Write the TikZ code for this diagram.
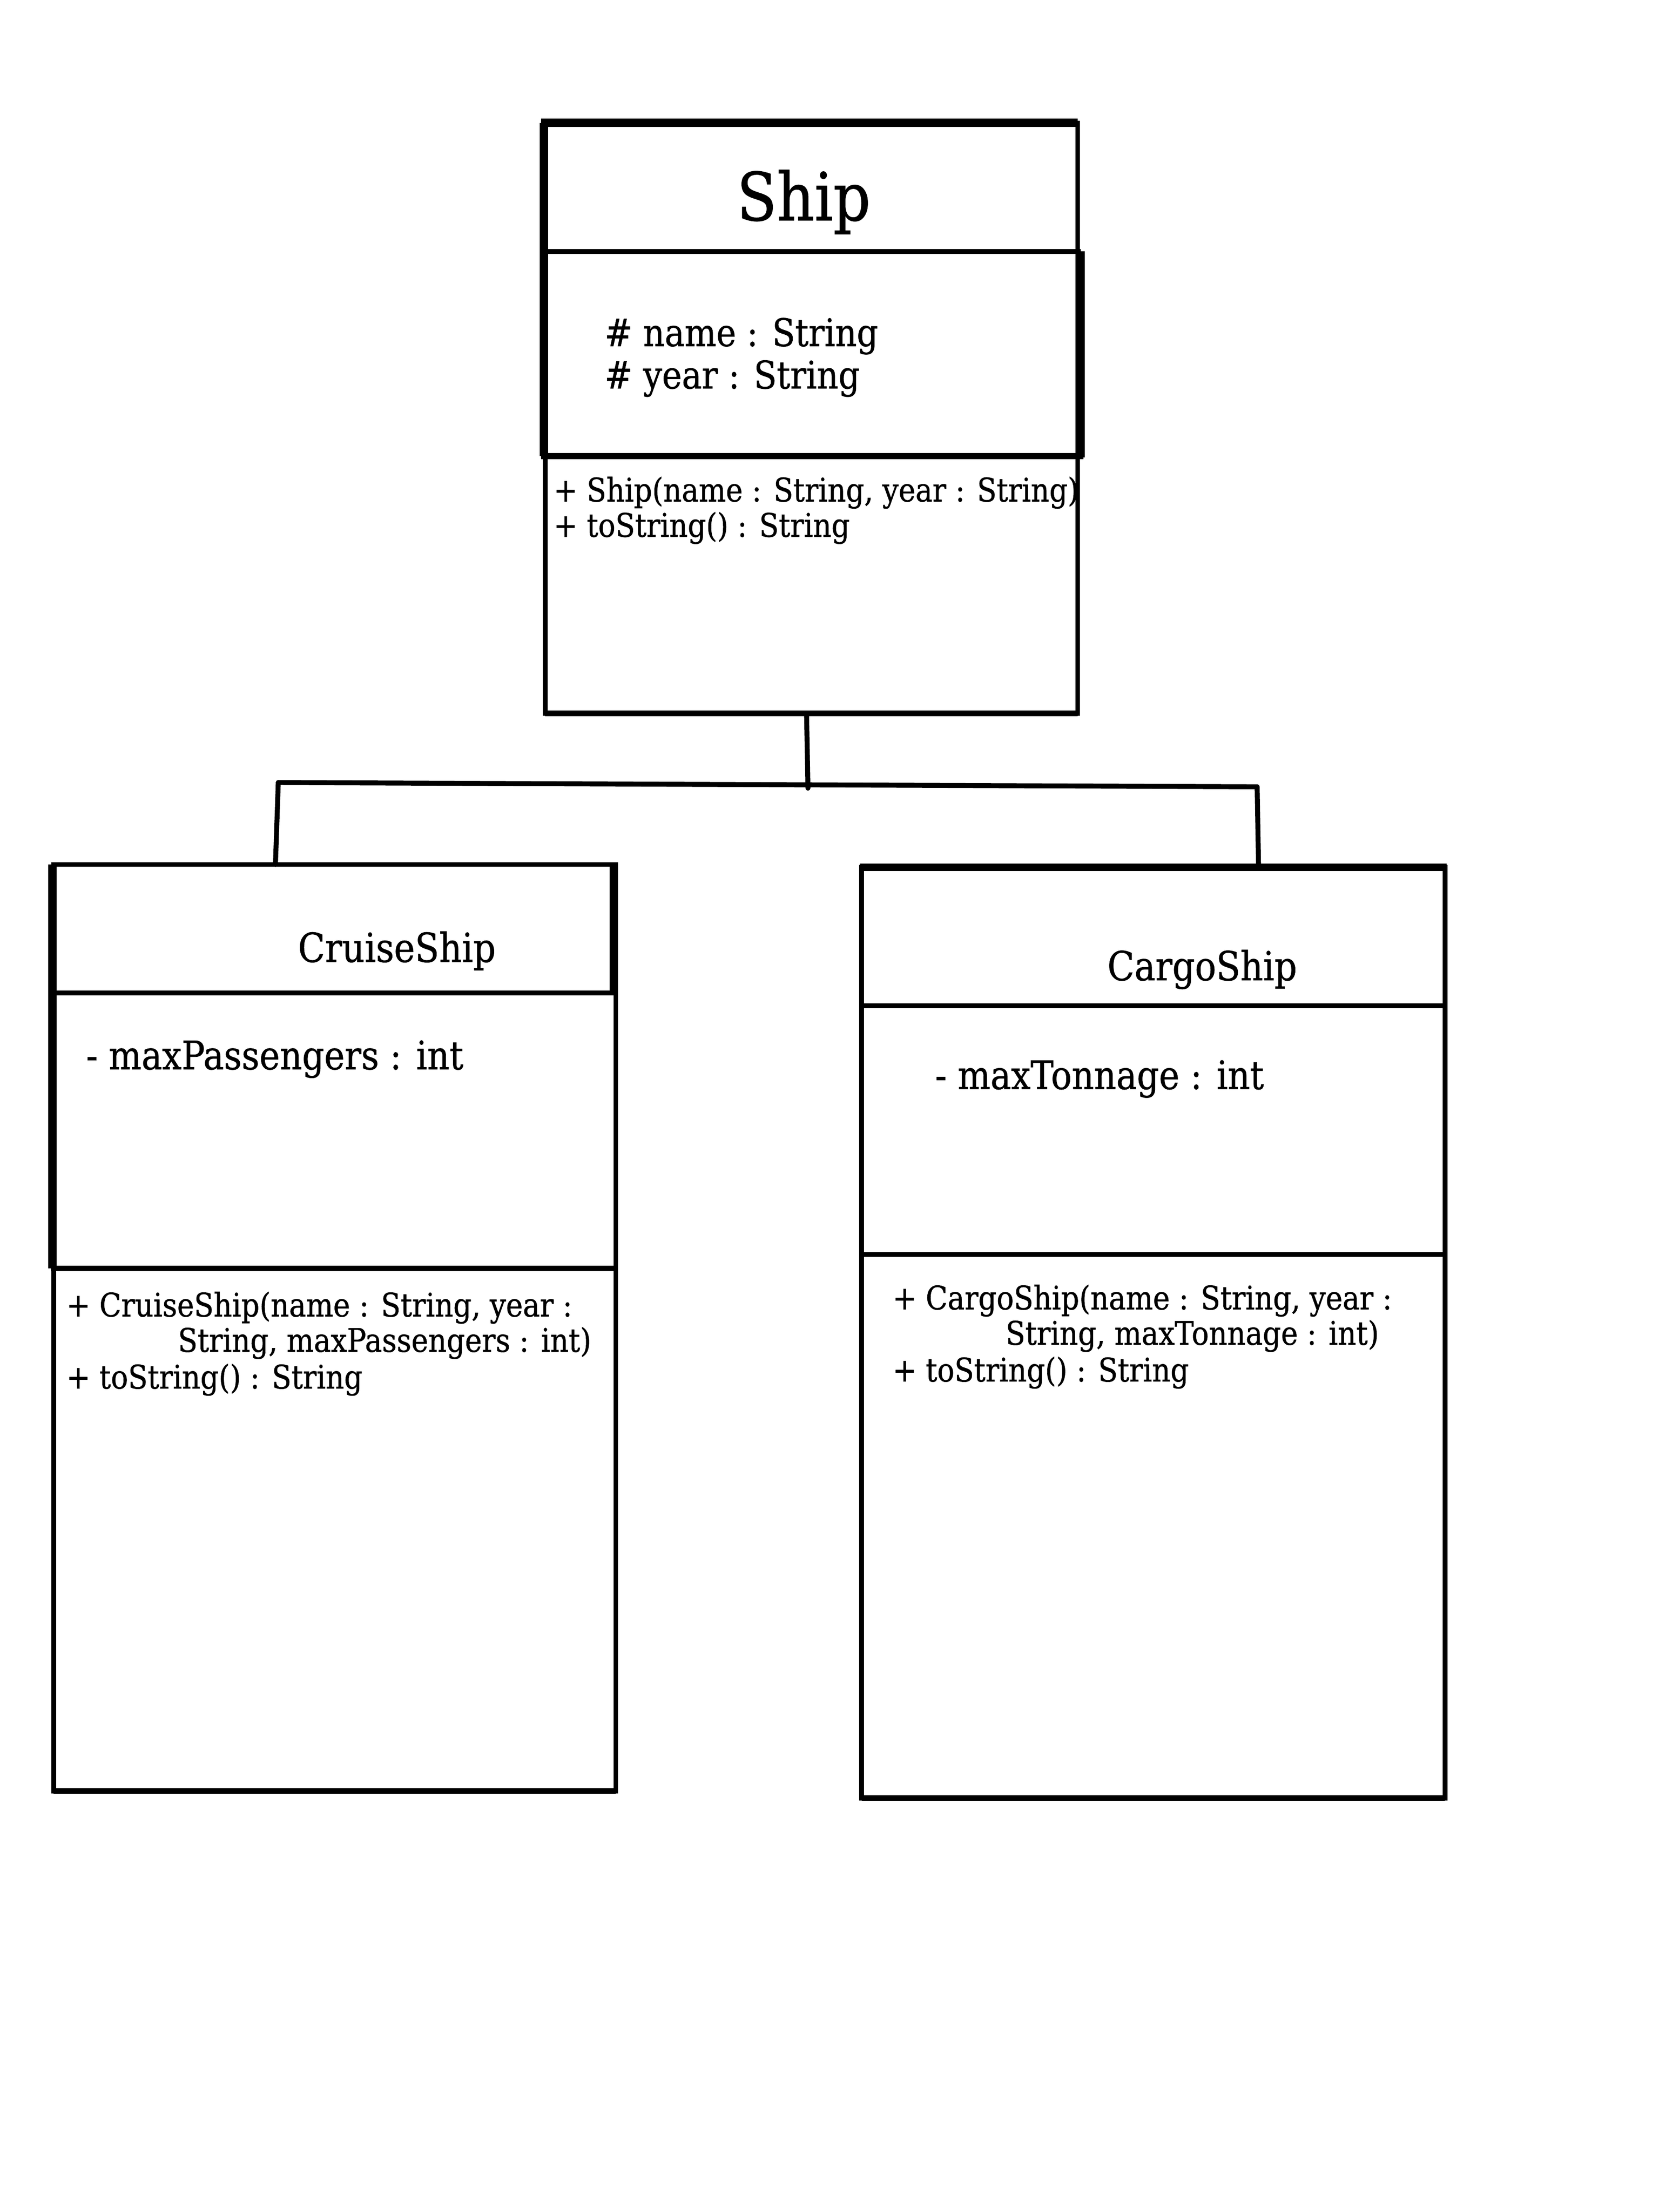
\documentclass[tikz,border=0pt]{standalone}
\usepackage{fontspec}
\setmainfont{DejaVu Serif}[FakeStretch=0.88,FakeBold=0.8]
\newcommand\fTitleBig{\fontsize{47}{54}\selectfont}
\newcommand\fTitleSub{\fontsize{28.4}{32}\selectfont}
\newcommand\fAttr{\fontsize{26.9}{30}\selectfont}
\newcommand\fAttrSub{\fontsize{27.8}{30}\selectfont}
\newcommand\fMeth{\fontsize{23}{26}\selectfont}
\tikzset{
  classbox/.style={draw, line width=3.3pt, inner sep=0pt, outer sep=0pt, anchor=north west, fill=none},
  heavy/.style={line width=6pt},
  rule/.style={line width=3.3pt},
  conn/.style={line width=3.5pt, line cap=round},
  txt/.style={inner sep=0pt, outer sep=0pt, anchor=base west},
  ttl/.style={inner sep=0pt, outer sep=0pt, anchor=base west},
}
\begin{document}
\begin{tikzpicture}[x=1pt,y=-1pt]
\useasboundingbox[fill=white] (0,0) rectangle (1174.5,1566);

% ---------- Ship ----------
\node[classbox, minimum width=377pt, minimum height=418pt] (ship) at (386,87) {};
\draw[heavy] (383,87) -- (763,87);
\draw[heavy] (385,87) -- (385,323);
\draw[rule] (385,178) -- (765,178);
\draw[heavy] (765,178) -- (765,324);
\draw[line width=4.5pt] (383,323) -- (767,323);
\draw[line width=4pt] (386,505) -- (763,505);
\node[ttl, anchor=base] (shipT) at (569,156) {\fTitleBig Ship};
\node[txt] (shipA1) at (428,245) {\fAttr \# name : String};
\node[txt] (shipA2) at (428,275) {\fAttr \# year : String};
\node[txt] (shipM1) at (392,355) {\fMeth + Ship(name : String, year : String)};
\node[txt] (shipM2) at (392,380) {\fMeth + toString() : String};

% ---------- CruiseShip ----------
\node[classbox, minimum width=398pt, minimum height=656pt] (cruise) at (38,612) {};
\draw[heavy] (37,612) -- (37,898);
\draw[line width=5pt] (434,612) -- (434,703);
\draw[rule] (37,703) -- (436,703);
\draw[line width=3.8pt] (36,898) -- (436,898);
\draw[line width=4pt] (38,1268) -- (436,1268);
\node[ttl] (cruiseT) at (211,681) {\fTitleSub CruiseShip};
\node[txt] (cruiseA1) at (61,757) {\fAttrSub - maxPassengers : int};
\node[txt] (cruiseM1) at (47,932) {\fMeth + CruiseShip(name : String, year :};
\node[txt] (cruiseM2) at (126,957) {\fMeth String, maxPassengers : int)};
\node[txt] (cruiseM3) at (47,983) {\fMeth + toString() : String};

% ---------- CargoShip ----------
\node[classbox, minimum width=413pt, minimum height=659pt] (cargo) at (610,614) {};
\draw[line width=5.5pt] (609,614) -- (1024,614);
\draw[rule] (610,712) -- (1023,712);
\draw[rule] (610,888) -- (1023,888);
\draw[line width=4pt] (610,1273) -- (1023,1273);
\node[ttl] (cargoT) at (784,694) {\fTitleSub CargoShip};
\node[txt] (cargoA1) at (662,771) {\fAttrSub - maxTonnage : int};
\node[txt] (cargoM1) at (632,927) {\fMeth + CargoShip(name : String, year :};
\node[txt] (cargoM2) at (712,952) {\fMeth String, maxTonnage : int)};
\node[txt] (cargoM3) at (632,978) {\fMeth + toString() : String};

% ---------- connectors ----------
\coordinate (jc) at (572,558);
\coordinate (jl) at (197,554);
\coordinate (jr) at (890,557);
\draw[conn] (ship.south -| 571,0) -- (jc);
\draw[conn] (jl) -- (jr);
\draw[conn] (jl) -- (cruise.north -| 195,0);
\draw[conn] (jr) -- (cargo.north -| 891,0);
\end{tikzpicture}
\end{document}
